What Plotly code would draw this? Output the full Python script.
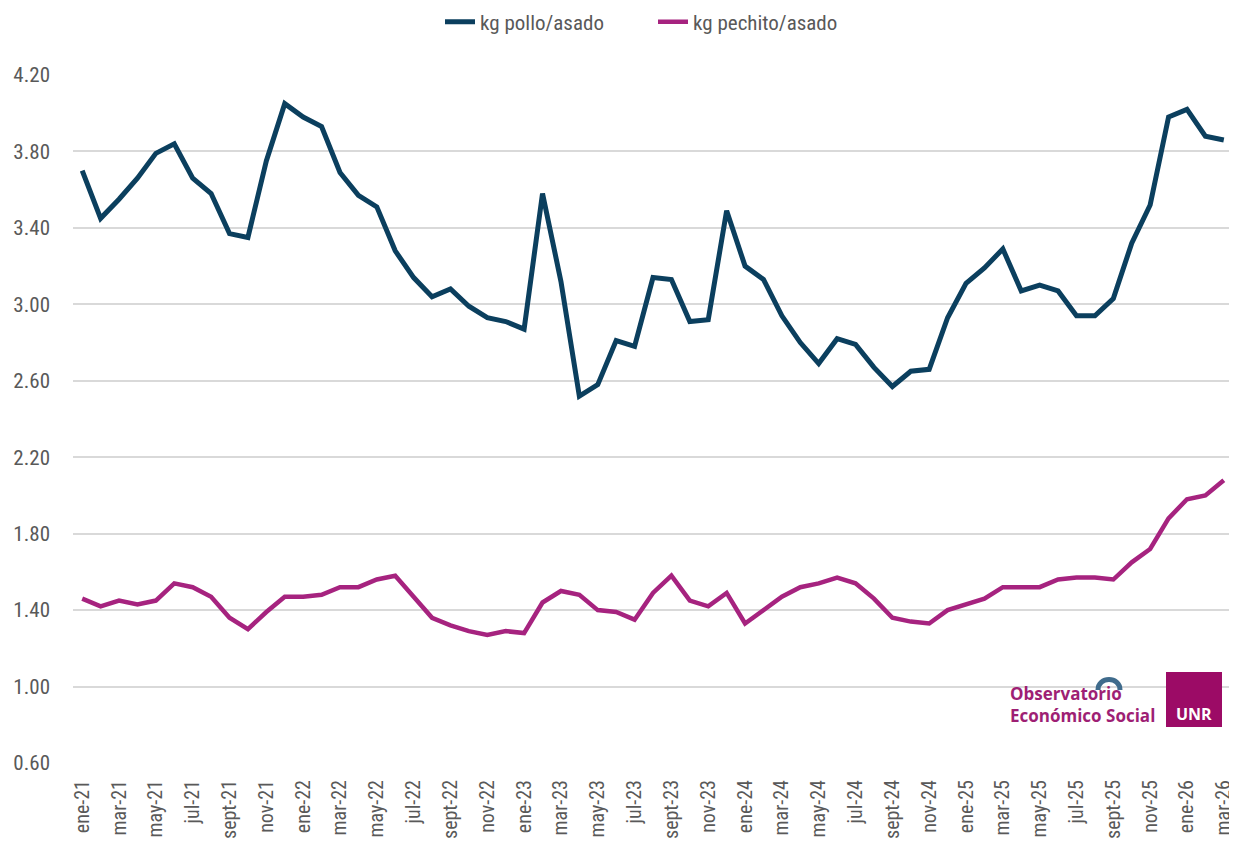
import plotly.graph_objects as go

months = ["ene", "feb", "mar", "abr", "may", "jun", "jul", "ago", "sept", "oct", "nov", "dic"]
years = ["21", "22", "23", "24", "25", "26"]
categories = [f"{m}-{y}" for y in years for m in months][:63]

pollo = [3.70, 3.45, 3.55, 3.66, 3.79, 3.84, 3.66, 3.58, 3.37, 3.35,
         3.75, 4.05, 3.98, 3.93, 3.69, 3.57, 3.51, 3.28, 3.14, 3.04,
         3.08, 2.99, 2.93, 2.91, 2.87, 3.58, 3.12, 2.52, 2.58, 2.81,
         2.78, 3.14, 3.13, 2.91, 2.92, 3.49, 3.20, 3.13, 2.94, 2.80,
         2.69, 2.82, 2.79, 2.67, 2.57, 2.65, 2.66, 2.93, 3.11, 3.19,
         3.29, 3.07, 3.10, 3.07, 2.94, 2.94, 3.03, 3.32, 3.52, 3.98,
         4.02, 3.88, 3.86]

pechito = [1.46, 1.42, 1.45, 1.43, 1.45, 1.54, 1.52, 1.47, 1.36, 1.30,
           1.39, 1.47, 1.47, 1.48, 1.52, 1.52, 1.56, 1.58, 1.47, 1.36,
           1.32, 1.29, 1.27, 1.29, 1.28, 1.44, 1.50, 1.48, 1.40, 1.39,
           1.35, 1.49, 1.58, 1.45, 1.42, 1.49, 1.33, 1.40, 1.47, 1.52,
           1.54, 1.57, 1.54, 1.46, 1.36, 1.34, 1.33, 1.40, 1.43, 1.46,
           1.52, 1.52, 1.52, 1.56, 1.57, 1.57, 1.56, 1.65, 1.72, 1.88,
           1.98, 2.00, 2.08]

y_ticks = [0.60, 1.00, 1.40, 1.80, 2.20, 2.60, 3.00, 3.40, 3.80, 4.20]

FONT = "Roboto Condensed, DejaVu Sans Condensed, Liberation Sans Narrow, sans-serif"
GRAY = "#595959"
NAVY = "#0B3F5E"
MAGENTA = "#A6237F"

# page body has an 8px margin: figure coords = screen coords - 8
OFF = 8
W, H = 1237 - OFF, 843 - OFF
PL, PR, PT, PB = 73 - OFF, 1233 - OFF, 75 - OFF, 763 - OFF


def px(x):
    return (x - OFF - PL) / (PR - PL)


def py(y):
    return (PB - (y - OFF)) / (PB - PT)


x_idx = list(range(len(categories)))

fig = go.Figure()
fig.add_trace(go.Scatter(x=x_idx, y=pollo, mode="lines", name="kg pollo/asado",
                         line=dict(color=NAVY, width=5)))
fig.add_trace(go.Scatter(x=x_idx, y=pechito, mode="lines", name="kg pechito/asado",
                         line=dict(color=MAGENTA, width=4.5)))

fig.update_layout(
    width=W, height=H,
    margin=dict(l=PL, r=W - PR, t=PT, b=H - PB, autoexpand=False),
    paper_bgcolor="white", plot_bgcolor="white",
    font=dict(family=FONT, color=GRAY, size=19),
    showlegend=True,
    legend=dict(orientation="h", x=0.5, xanchor="center", y=py(22), yanchor="middle",
                font=dict(size=21, color=GRAY), traceorder="normal",
                entrywidth=168),
    xaxis=dict(range=[-0.5, len(categories) - 0.5],
               tickvals=x_idx[::2], ticktext=categories[::2],
               tickangle=-90, showgrid=False, zeroline=False, automargin=False,
               showline=False, ticks="", ticklabelstandoff=12,
               tickfont=dict(size=20, color=GRAY)),
    yaxis=dict(range=[0.6, 4.2], tickvals=y_ticks,
               ticktext=[f"{v:.2f}" for v in y_ticks],
               showgrid=True, gridcolor="#D9D9D9", gridwidth=2, automargin=False,
               zeroline=False, showline=False, ticks="",
               ticklabelstandoff=22, tickfont=dict(size=21, color=GRAY)),
)

# Logo: Observatorio Económico Social + UNR
LOGO_MAG = "#9E1F74"
fig.add_shape(type="path", xref="paper", yref="paper",
              xsizemode="pixel", ysizemode="pixel",
              xanchor=px(1109), yanchor=py(690),
              path="M -11,0 C -11,14 11,14 11,0",
              line=dict(color="#3F6B8C", width=5))
fig.add_annotation(xref="paper", yref="paper", x=px(1008), y=py(704),
                   xanchor="left", yanchor="middle", showarrow=False, align="left",
                   text="<b>Observatorio<br>Económico Social</b>",
                   font=dict(family="Open Sans, sans-serif", size=17, color=LOGO_MAG))
fig.add_shape(type="rect", xref="paper", yref="paper",
              x0=px(1166), x1=px(1222), y0=py(727), y1=py(672),
              fillcolor="#9C0B66", line=dict(width=0), layer="above")
fig.add_annotation(xref="paper", yref="paper", x=px(1194), y=py(714),
                   xanchor="center", yanchor="middle", showarrow=False,
                   text="<b>UNR</b>",
                   font=dict(family="Open Sans, sans-serif", size=16, color="white"))

fig.write_html("out.html")
